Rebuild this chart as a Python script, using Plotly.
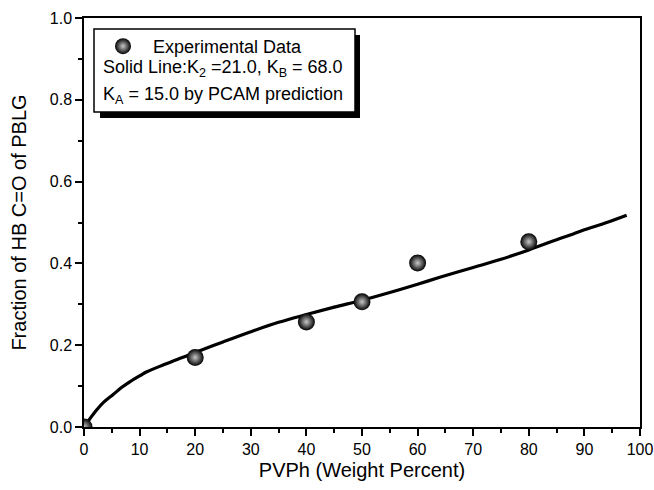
import plotly.graph_objects as go

# Experimental data
exp_x = [0, 20, 40, 50, 60, 80]
exp_y = [0.0, 0.170, 0.257, 0.306, 0.401, 0.453]

# Fitted (solid line) curve
fit_x = [0, 1, 2.3, 3.5, 5.3, 6.8, 8.3, 10, 11.3, 14.3, 17.3, 20, 25, 30, 35, 40, 45, 50,
         55, 60, 64, 70, 75, 80, 85, 88, 90, 94, 97.6]
fit_y = [0.0, 0.019, 0.042, 0.060, 0.080, 0.097, 0.111, 0.125, 0.135, 0.152, 0.168, 0.182,
         0.208, 0.233, 0.256, 0.275, 0.293, 0.310, 0.329, 0.349, 0.366, 0.390, 0.410,
         0.433, 0.458, 0.472, 0.482, 0.500, 0.518]

x_ticks = list(range(0, 101, 10))
y_ticks = [0.0, 0.2, 0.4, 0.6, 0.8, 1.0]

FONT = "Liberation Sans, Arial, sans-serif"

fig = go.Figure()
fig.add_trace(go.Scatter(
    x=fit_x, y=fit_y, mode="lines", line=dict(color="black", width=3.2, shape="spline"),
    showlegend=False, hoverinfo="skip"))
fig.add_trace(go.Scatter(
    x=exp_x, y=exp_y, mode="markers", name="\u00a0\u00a0Experimental Data",
    marker=dict(size=17, color="black", line=dict(width=0),
                gradient=dict(type="radial", color="#c8c8c8")),
    showlegend=True))

W, H = 654, 490
L, R, T, B = 84, 14, 18, 63
pw, ph = W - L - R, H - T - B

def px(xp):  # screen x pixel -> paper
    return (xp - L) / pw

def py(yp):  # screen y pixel -> paper
    return (H - B - yp) / ph

shapes = [
    # shadow
    dict(type="rect", xref="paper", yref="paper", x0=px(100), x1=px(360), y0=py(118), y1=py(35),
         fillcolor="black", line=dict(width=0), layer="above"),
    # box
    dict(type="rect", xref="paper", yref="paper", x0=px(94), x1=px(355), y0=py(112), y1=py(29),
         fillcolor="white", line=dict(color="black", width=1.5), layer="above"),
]

annotations = [
    dict(text="Solid Line:K<sub>2</sub> =21.0, K<sub>B</sub> = 68.0", xref="paper", yref="paper",
         x=px(101), y=py(68), xanchor="left", yanchor="middle", showarrow=False,
         font=dict(family=FONT, size=18, color="black")),
    dict(text="K<sub>A</sub> = 15.0 by PCAM prediction", xref="paper", yref="paper",
         x=px(101), y=py(95), xanchor="left", yanchor="middle", showarrow=False,
         font=dict(family=FONT, size=18, color="black")),
]

fig.update_layout(
    width=W, height=H,
    margin=dict(l=L, r=R, t=T, b=B, autoexpand=False),
    paper_bgcolor="white", plot_bgcolor="white",
    font=dict(family=FONT, size=16, color="black"),
    shapes=shapes, annotations=annotations,
    showlegend=True,
    legend=dict(x=px(103), y=py(28), xanchor="left", yanchor="top",
                bgcolor="rgba(0,0,0,0)", borderwidth=0,
                font=dict(family=FONT, size=18, color="black")),
    xaxis=dict(range=[0, 100], tickvals=x_ticks, ticktext=[str(v) for v in x_ticks],
               showgrid=False, zeroline=False, showline=True, linecolor="black", linewidth=1.5,
               mirror=True, ticks="outside", ticklen=7, tickwidth=1.5, tickcolor="black",
               minor=dict(dtick=5, ticks="outside", ticklen=4, tickwidth=1.5, tickcolor="black"),
               title=dict(text="PVPh (Weight Percent)", font=dict(size=20), standoff=6),
               tickfont=dict(size=16), automargin=False),
    yaxis=dict(range=[0, 1.0], tickvals=y_ticks, ticktext=[f"{v:.1f}" for v in y_ticks],
               showgrid=False, zeroline=False, showline=True, linecolor="black", linewidth=1.5,
               mirror=True, ticks="outside", ticklen=7, tickwidth=1.5, tickcolor="black",
               minor=dict(dtick=0.1, ticks="outside", ticklen=4, tickwidth=1.5, tickcolor="black"),
               title=dict(text="Fraction of HB C=O of PBLG", font=dict(size=20), standoff=18),
               tickfont=dict(size=16), automargin=False),
)

fig.write_html(
    "out.html",
    config={"displayModeBar": False},
    post_script="document.body.style.margin='0';document.body.style.overflow='hidden';",
)
